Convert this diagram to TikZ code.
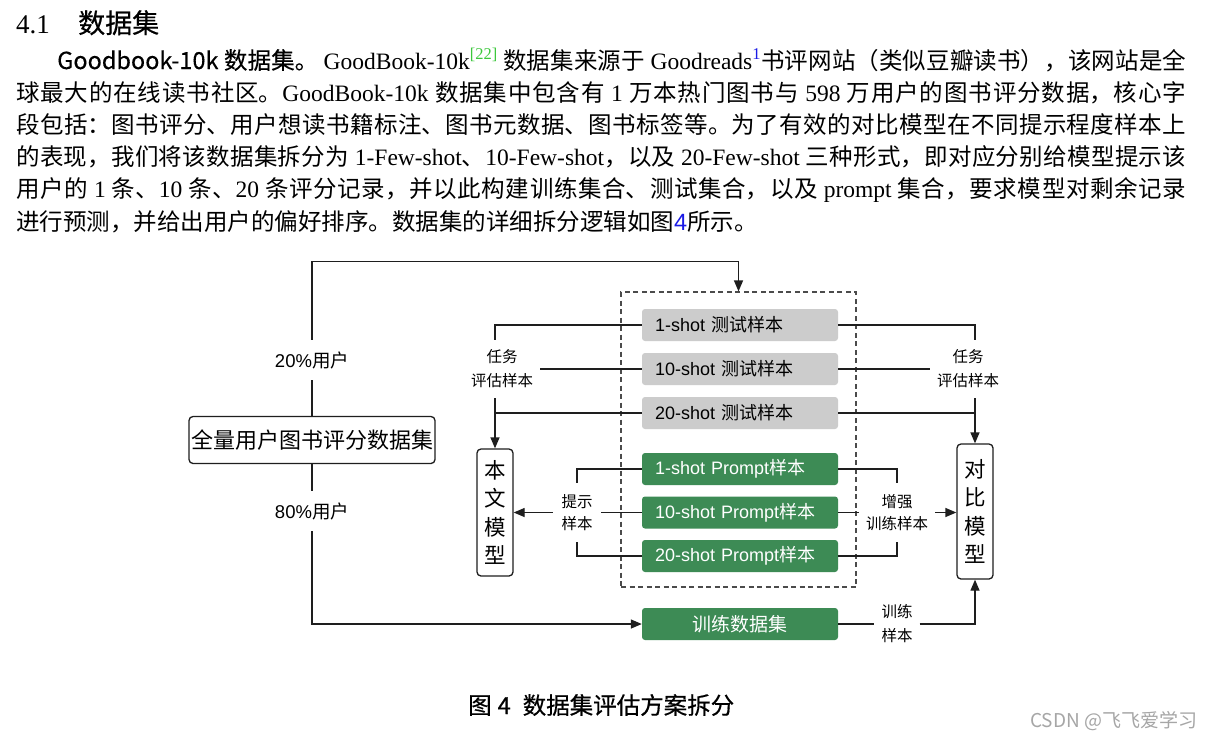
\documentclass[tikz,border=0pt]{standalone}
\usepackage{fontspec}
\usetikzlibrary{arrows.meta,calc}
\setmainfont{Noto Sans CJK SC}
\newfontfamily\en{Liberation Serif}
\newfontfamily\hv{Liberation Sans}
\newfontfamily\hei[FakeBold=0.6]{Noto Sans CJK SC}
\newfontfamily\yh[FakeBold=0.3]{Noto Sans CJK SC}
\definecolor{gboxc}{HTML}{3D8B55}
\definecolor{grayc}{HTML}{CCCCCC}
\definecolor{linec}{HTML}{1E1E1E}
\definecolor{citec}{HTML}{3CC83C}
\definecolor{linkc}{HTML}{1A1AE6}
\definecolor{wmc}{HTML}{A6A6A6}
\newcommand\fsz[1]{\fontsize{#1}{#1}\selectfont}
\newcommand\jline[1]{\parbox[t]{1170pt}{\XeTeXlinebreaklocale "zh"\XeTeXlinebreakskip=0pt plus 2pt minus 0.4pt\relax
  \tolerance=10000 \parindent=0pt \parfillskip=0pt \noindent #1}}
\tikzset{
  ln/.style={draw=linec, line width=1.3pt},
  arr/.style={ln, -{Triangle[length=11pt,width=9pt]}},
  txt/.style={anchor=base west, inner sep=0pt},
  gbox/.style={fill=grayc, rounded corners=3pt, minimum width=196pt, minimum height=32pt,
    text width=170pt, inner xsep=13pt, inner ysep=0pt, align=left, text=black, font=\fsz{18}},
  pbox/.style={gbox, fill=gboxc, text=white},
  mbox/.style={draw=linec, line width=1.3pt, rounded corners=4pt, minimum width=36pt,
    inner sep=0pt, align=center, font=\fontsize{21.5}{28.5}\selectfont},
  lab/.style={inner sep=0pt, align=center},
}
\begin{document}
\begin{tikzpicture}[x=1pt,y=-1pt]
\useasboundingbox[fill=white] (0,0) rectangle (1210,740);

% ---------- heading and paragraph ----------
\node[txt] (h1) at (16,33) {\en\fsz{27}4.1};
\node[txt] (h2) at (78,33) {\hei\fsz{27}数据集};

\node[txt] (l1) at (16,69) {\fsz{23.5}\jline{\hspace*{41pt}{\yh Goodbook-10k 数据集。} {\en GoodBook-10k}{\en\color{citec}\textsuperscript{[22]}} 数据集来源于 {\en Goodreads}{\en\color{linkc}\textsuperscript{1}}书评网站（类似豆瓣读书），该网站是全}};
\node[txt] (l2) at (16,101.2) {\fsz{23.5}\jline{球最大的在线读书社区。{\en GoodBook-10k} 数据集中包含有 {\en 1} 万本热门图书与 {\en 598} 万用户的图书评分数据，核心字}};
\node[txt] (l3) at (16,133.4) {\fsz{23.5}\jline{段包括：图书评分、用户想读书籍标注、图书元数据、图书标签等。为了有效的对比模型在不同提示程度样本上}};
\node[txt] (l4) at (16,165.6) {\fsz{23.5}\jline{的表现，我们将该数据集拆分为 {\en 1-Few-shot}、{\en 10-Few-shot}，以及 {\en 20-Few-shot} 三种形式，即对应分别给模型提示该}};
\node[txt] (l5) at (16,197.8) {\fsz{23.5}\jline{用户的 {\en 1} 条、{\en 10} 条、{\en 20} 条评分记录，并以此构建训练集合、测试集合，以及 {\en prompt} 集合，要求模型对剩余记录}};
\node[txt] (l6) at (16,230) {\fsz{23.5}进行预测，并给出用户的偏好排序。数据集的详细拆分逻辑如图{\hv\color{linkc}4}所示。};

% ---------- diagram ----------
\node[draw=linec!80, dashed, dash pattern=on 5pt off 3.5pt, line width=1.2pt,
  minimum width=235pt, minimum height=295pt, inner sep=0pt] (db) at (738.5,439.5) {};

\node[draw=linec, line width=1.3pt, rounded corners=4pt, minimum width=246pt, minimum height=47pt,
  inner sep=0pt, font=\fsz{22}] (src) at (312,440) {全量用户图书评分数据集};

\node[gbox] (t1) at (740,325) {{\hv 1-shot }测试样本};
\node[gbox] (t2) at (740,369) {{\hv 10-shot }测试样本};
\node[gbox] (t3) at (740,413) {{\hv 20-shot }测试样本};
\node[pbox] (g1) at (740,469) {{\hv 1-shot Prompt}样本};
\node[pbox] (g2) at (740,512.5) {{\hv 10-shot Prompt}样本};
\node[pbox] (g3) at (740,556) {{\hv 20-shot Prompt}样本};
\node[pbox, align=center, font=\fsz{19}] (trn) at (740,624) {训练数据集};

\node[mbox, minimum height=127pt] (bw) at (495,512.5) {本\\文\\模\\型};
\node[mbox, minimum height=135pt] (cm) at (975,511.5) {对\\比\\模\\型};

\node[lab, minimum height=40pt, font=\fsz{18.5}] (p20) at (312,360) {{\hv 20\%}用户};
\node[lab, minimum height=40pt, font=\fsz{18.5}] (p80) at (312,511) {{\hv 80\%}用户};
\node[lab, minimum width=76pt, minimum height=58pt, font=\fontsize{15.5}{24}\selectfont] (tl) at (502,369) {任务\\评估样本};
\node[lab, minimum width=76pt, minimum height=58pt, font=\fontsize{15.5}{24}\selectfont] (tr) at (968,369) {任务\\评估样本};
\node[lab, minimum width=48pt, minimum height=59pt, font=\fontsize{15.5}{22}\selectfont] (pl) at (577,512.5) {提示\\样本};
\node[lab, minimum width=76pt, minimum height=59pt, font=\fontsize{15.5}{22}\selectfont] (pr) at (897,512.5) {增强\\训练样本};
\node[lab, minimum width=45pt, minimum height=50pt, font=\fontsize{15.5}{24}\selectfont] (bl) at (897,624) {训练\\样本};

\coordinate (topc) at ($(db.north)+(0,-30)$);

% source splits
\draw[ln] (src.north) -- (p20.south);
\draw[arr] (p20.north) |- (topc) -- (db.north);
\draw[ln] (src.south) -- (p80.north);
\draw[arr] (p80.south) |- (trn.west);

% test samples -> models
\draw[ln] (t1.west) -| (tl.north -| bw.north);
\draw[ln] (t2.west) -- (tl.east);
\draw[ln] (t3.west) -- (t3.west -| bw.north);
\draw[arr] (tl.south -| bw.north) -- (bw.north);
\draw[ln] (t1.east) -| (tr.north -| cm.north);
\draw[ln] (t2.east) -- (tr.west);
\draw[ln] (t3.east) -- (t3.east -| cm.north);
\draw[arr] (tr.south -| cm.north) -- (cm.north);

% prompt samples
\draw[ln] (g1.west) -| (pl.north);
\draw[ln] (g2.west) -- (pl.east);
\draw[ln] (g3.west) -| (pl.south);
\draw[arr] (pl.west) -- (pl.west -| bw.east);
\draw[ln] (g1.east) -| (pr.north);
\draw[ln] (g2.east) -- (pr.west);
\draw[ln] (g3.east) -| (pr.south);
\draw[arr] (pr.east) -- (pr.east -| cm.west);

% training set
\draw[ln] (trn.east) -- (bl.west);
\draw[arr] (bl.east) -| (cm.south);

% ---------- caption and watermark ----------
\node[txt] (cap) at (468,714) {\hei\fsz{23.5}图\hspace{6pt}4\hspace{12pt}数据集评估方案拆分};
\node[txt, text=wmc] (wm) at (1030,727) {\fsz{19}CSDN @飞飞爱学习};
\end{tikzpicture}
\end{document}
